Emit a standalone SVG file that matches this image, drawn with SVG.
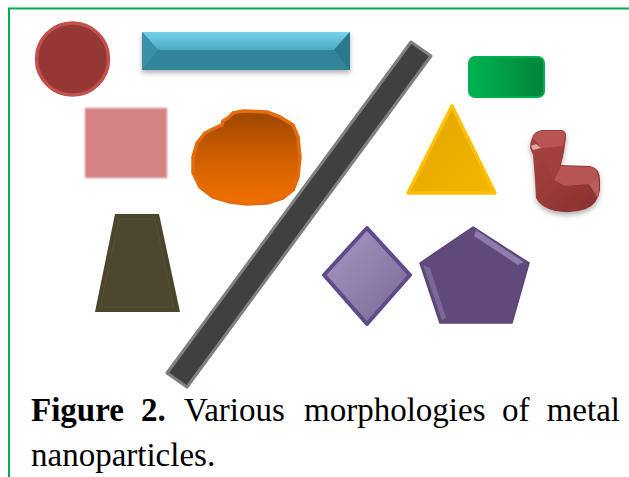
<svg xmlns="http://www.w3.org/2000/svg" width="629" height="477" viewBox="0 0 629 477">
<defs>
<style>
.cap{font-family:"Liberation Serif","Times New Roman",serif;font-size:33px;fill:#000}
.b{font-weight:bold}
</style>
<linearGradient id="gOrange" x1="0" y1="0" x2="0" y2="1"><stop offset="0" stop-color="#9c4600"/><stop offset="0.5" stop-color="#d05f00"/><stop offset="1" stop-color="#f27100"/></linearGradient>
<linearGradient id="gGreen" x1="0" y1="0" x2="1" y2="0"><stop offset="0" stop-color="#00b350"/><stop offset="1" stop-color="#00843a"/></linearGradient>
<linearGradient id="gTri" x1="0" y1="0" x2="1" y2="1"><stop offset="0" stop-color="#e2a200"/><stop offset="1" stop-color="#f3b800"/></linearGradient>
<linearGradient id="gDia" x1="0" y1="0" x2="1" y2="1"><stop offset="0" stop-color="#a898c4"/><stop offset="1" stop-color="#786894"/></linearGradient>
<linearGradient id="gBlueTop" x1="0" y1="0" x2="0" y2="1"><stop offset="0" stop-color="#74d3ea"/><stop offset="1" stop-color="#4ba8c0"/></linearGradient>
<linearGradient id="gChair" x1="0" y1="0" x2="1" y2="1"><stop offset="0" stop-color="#a84442"/><stop offset="1" stop-color="#8a302e"/></linearGradient>
<filter id="blur1" x="-10%" y="-10%" width="120%" height="120%"><feGaussianBlur stdDeviation="1.2"/></filter>
<filter id="soft" x="-10%" y="-10%" width="120%" height="120%"><feGaussianBlur stdDeviation="0.6"/></filter>
<filter id="shadow" x="-20%" y="-20%" width="140%" height="150%"><feDropShadow dx="0" dy="3" stdDeviation="2.5" flood-color="#000" flood-opacity="0.3"/></filter>
</defs>
<rect width="629" height="477" fill="#fff"/>
<g id="frame" stroke="#00b050" stroke-width="2" fill="none">
<path d="M9 477 V8.5 H629"/>
</g>
<g id="circle"><circle cx="72.5" cy="59" r="36" fill="#953735" stroke="#c4504d" stroke-width="3.5"/></g>
<g id="bar" filter="url(#shadow)">
<rect x="142" y="32" width="208" height="38" fill="#31849b"/>
<polygon points="142,32 350,32 334,50 158,50" fill="url(#gBlueTop)"/>
<polygon points="142,32 158,50 142,70" fill="#3b90a7"/>
<polygon points="350,32 334,50 350,70" fill="#2b788d"/>
</g>
<g id="square"><rect x="85" y="108" width="82" height="70" fill="#d48284" filter="url(#blur1)"/></g>
<g id="blob"><path d="M243,111 L267,112 L280,117 L293,125 L298,137 L300,157 L298,177 L293,190 L283,198 L267,203 L247,204 L230,202 L213,197 L200,187 L193,173 L193,157 L197,143 L205,133 L217,127 L222,125 L223,121 L228,118 L233,113 Z" fill="url(#gOrange)" stroke="#e56c0a" stroke-width="3.5" stroke-linejoin="round" filter="url(#soft)"/></g>
<g id="rod"><polygon points="411,42 431,56 187,387 167,373" fill="#404040" stroke="#7f7f7f" stroke-width="3" stroke-linejoin="round" filter="url(#soft)"/></g>
<g id="greenrect"><rect x="469" y="57" width="75" height="40" rx="6" fill="url(#gGreen)" stroke="#00b050" stroke-width="2"/></g>
<g id="triangle"><polygon points="452,106 408,193 495,193" fill="url(#gTri)" stroke="#ffc000" stroke-width="3.5" stroke-linejoin="round"/></g>
<g id="chair" filter="url(#shadow)">
<path d="M532,138 Q534,131 542,130 L562,130 Q567,131 566,138 L564,152 L561,165 L590,166 Q600,168 600,180 L600,190 Q598,204 586,209 Q572,214 555,211 Q540,207 536,198 L535,180 L533,155 L530,148 Q530,142 532,138 Z" fill="url(#gChair)"/>
<path d="M533,138 Q535,132 542,131 L562,131 Q566,132 565,137 L563,146 Q552,149 541,148 Z" fill="#b65553"/>
<path d="M541,148 L563,146 L560,166 L553,180 Z" fill="#a24140" opacity="0.8"/>
<path d="M561,166 L590,167 Q598,169 598,176 L589,184 L565,186 L554,180 Z" fill="#b65553"/>
<path d="M589,184 L598,176 Q600,185 598,198 Z" fill="#c46664" opacity="0.8"/>
<path d="M531,146 L536,144 L541,148 L533,150 Z" fill="#e0a8a6"/>
</g>
<g id="trapezoid">
<polygon points="115,214 159,214 180,312 95,312" fill="#4a452b"/>
<polygon points="119,219 155,219 174,307 100,307" fill="#4c472d" stroke="#57513a" stroke-width="1"/>
</g>
<g id="diamond"><polygon points="367,228 410,275 367,324 324,275" fill="url(#gDia)" stroke="#5f4b8b" stroke-width="4" stroke-linejoin="round"/></g>
<g id="pentagon">
<polygon points="473,227 529,263 512,323 440,323 420,263" fill="#604a7b" stroke="#5a4575" stroke-width="1.5" stroke-linejoin="round"/>
<polygon points="476,230 524,262 518,265 474,236" fill="#8d7bac" filter="url(#soft)"/>
<polygon points="423,265 430,268 446,318 442,320" fill="#7a6898" filter="url(#soft)"/>
</g>
<g id="caption">
<text class="cap b" x="31" y="421">Figure</text>
<text class="cap b" x="141" y="421">2.</text>
<text class="cap" x="184" y="421">Various</text>
<text class="cap" x="304" y="421">morphologies</text>
<text class="cap" x="502" y="421">of</text>
<text class="cap" x="620" y="421" text-anchor="end">metal</text>
<text class="cap" x="31" y="466">nanoparticles.</text>
</g>
</svg>
